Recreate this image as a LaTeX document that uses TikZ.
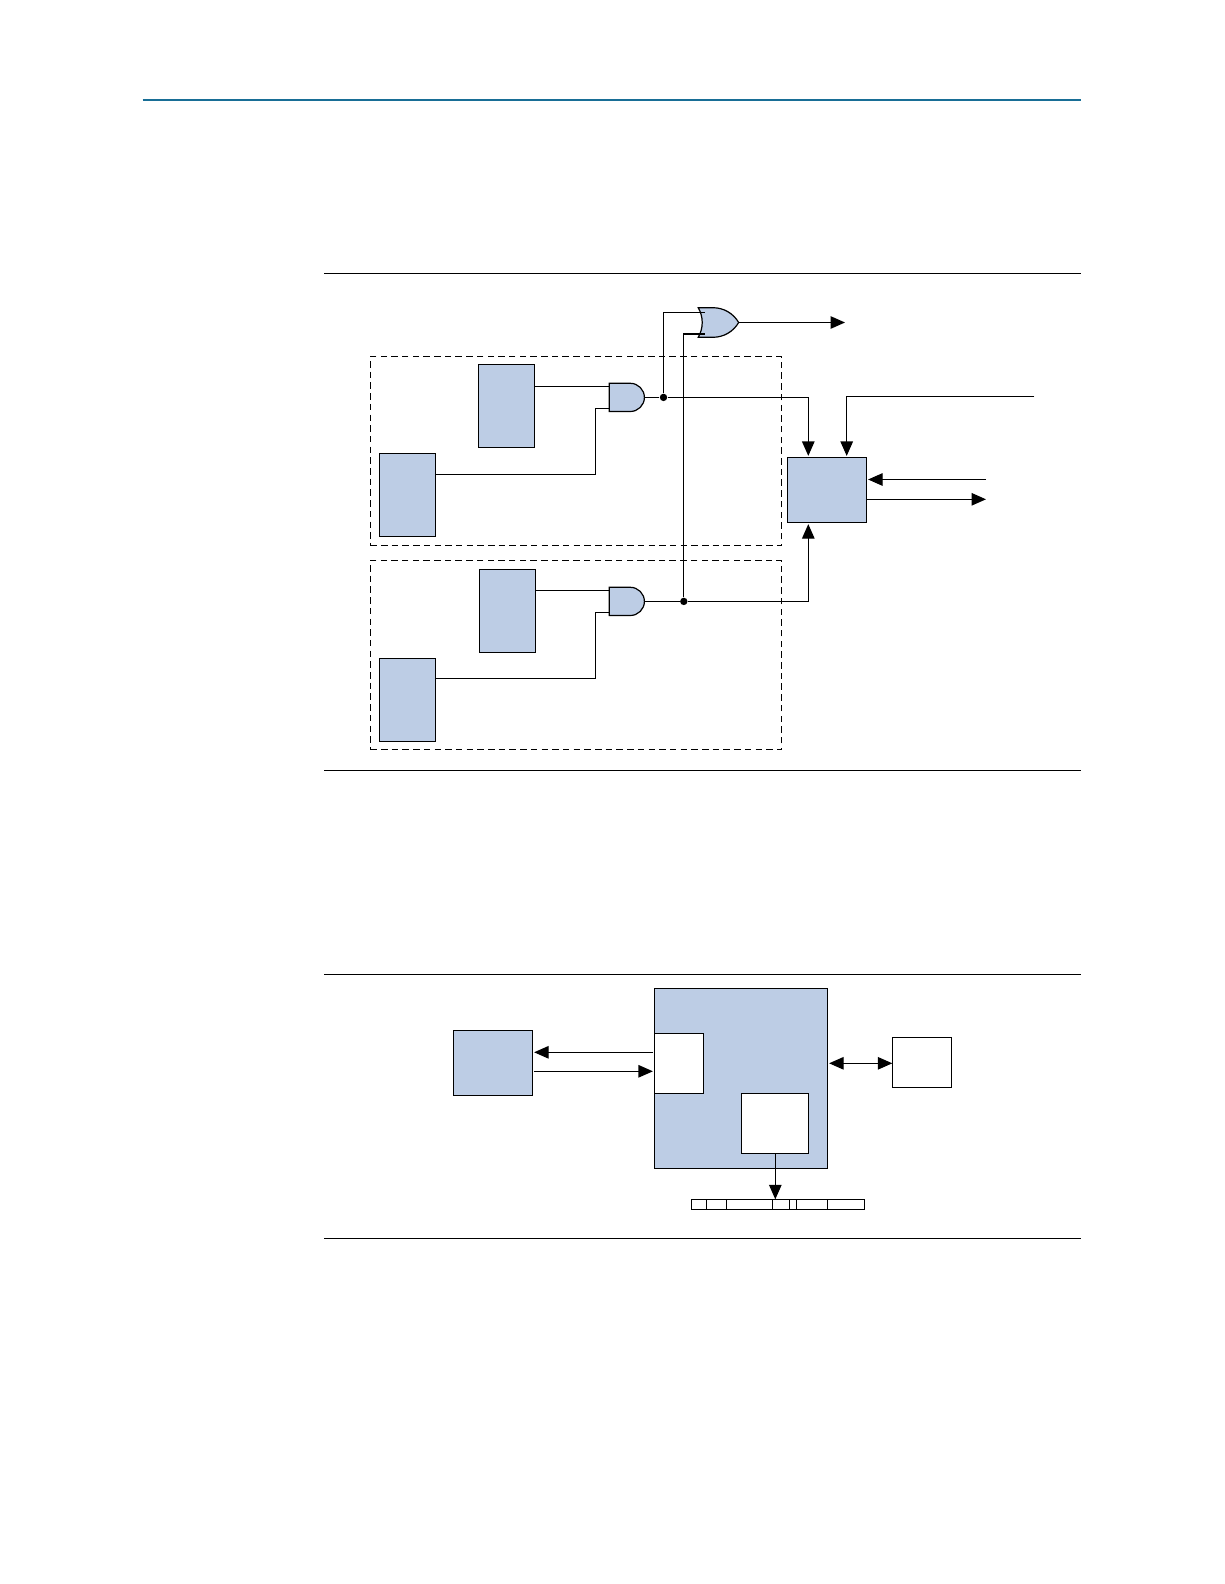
\documentclass[tikz,border=0pt]{standalone}
\usetikzlibrary{arrows.meta, shapes.gates.logic.US}
\definecolor{blockfill}{RGB}{189, 205, 229}
\definecolor{headline}{RGB}{24, 110, 150}

\begin{document}
\begin{tikzpicture}[
	x=1pt, y=-1pt,
	line width=1.2pt,
	>={Triangle[length=14.5pt, width=12.5pt]},
	% Styles for the blocks
	blueblock/.style={draw, fill=blockfill, inner sep=0pt, outer sep=0pt},
	whiteblock/.style={draw, fill=white, inner sep=0pt, outer sep=0pt},
	groupbox/.style={draw, dash pattern=on 6.5pt off 4.2pt, inner sep=0pt, outer sep=0pt},
	% Styles for the logic gates
	andshape/.style={and gate US, draw, fill=blockfill, logic gate inputs=nn, logic gate input sep=9.4pt, minimum width=32.7pt, inner sep=0pt, outer sep=0pt},
	orshape/.style={or gate US, draw, fill=blockfill, logic gate inputs=nn, logic gate input sep=9.8pt, minimum width=40.4pt, inner sep=0pt, outer sep=0pt},
	junction/.style={circle, fill=black, minimum size=7.4pt, inner sep=0pt},
	ruleline/.style={line width=1.1pt},
	gapped/.style={shorten >=1.4pt}
	]
	\useasboundingbox (0,0) rectangle (1224,1584);
	
	% ==========================================
	% PAGE RULES
	% ==========================================
	\draw[headline, line width=2pt] (142.7,100) -- (1081,100);
	\draw[ruleline] (324,273.3) -- (1081,273.3);
	\draw[ruleline] (324,770.3) -- (1081,770.3);
	\draw[ruleline] (324,974.3) -- (1081,974.3);
	\draw[ruleline] (324,1238.3) -- (1081,1238.3);
	
	% ==========================================
	% UPPER FIGURE
	% ==========================================
	% Dashed groups
	\node[groupbox, minimum width=411.4pt, minimum height=189pt] (groupone) at (576,450.8) {};
	\node[groupbox, minimum width=411.4pt, minimum height=189pt] (grouptwo) at (576,654.8) {};
	
	% Blocks of the first group
	\node[blueblock, minimum width=56.4pt, minimum height=83pt] (topblockone) at (506.5,405.8) {};
	\node[blueblock, minimum width=56.4pt, minimum height=83pt] (lowblockone) at (407.5,494.8) {};
	
	% Blocks of the second group
	\node[blueblock, minimum width=56.4pt, minimum height=83pt] (topblocktwo) at (507.5,610.8) {};
	\node[blueblock, minimum width=56.4pt, minimum height=83pt] (lowblocktwo) at (407.5,699.8) {};
	
	% Gates
	\node[andshape] (andone) at (625.6,397.4) {};
	\node[andshape] (andtwo) at (625.6,601.4) {};
	\node[orshape] (orgate) at (715.5,322.5) {};
	
	% Controller on the right
	\node[blueblock, minimum width=79.4pt, minimum height=65.4pt] (control) at (827,490) {};
	
	% Junctions
	\node[junction] (dotone) at (663.5,397.4) {};
	\node[junction] (dottwo) at (683.8,601.4) {};
	
	% Free ends and elbows
	\coordinate (elbowone) at (595.3,474.3);
	\coordinate (elbowtwo) at (595.3,678.3);
	\coordinate (orout) at (845,322.5);
	\coordinate (clockin) at (1034.3,396.5);
	\coordinate (dataend) at (986,479.5);
	\coordinate (dataout) at (986,499.3);
	
	% Wires into the AND gates
	\draw (topblockone.east |- 0,386.3) -- (andone.west |- 0,386.3);
	\draw (elbowone -| lowblockone.east) -- (elbowone) |- (andone.west |- 0,408.3);
	\draw (topblocktwo.east |- 0,590.3) -- (andtwo.west |- 0,590.3);
	\draw (elbowtwo -| lowblocktwo.east) -- (elbowtwo) |- (andtwo.west |- 0,612.3);
	
	% Wires out of the AND gates
	\draw (andone.east) -- (dotone);
	\draw (andtwo.east) -- (dottwo);
	\draw[->, gapped] (dotone) -| ([xshift=-18.7pt]control.north);
	\draw[->, gapped] (dottwo) -| ([xshift=-18.7pt]control.south);
	
	% OR gate
	\draw (dotone) |- ([xshift=3pt]orgate.west |- 0,312.3);
	\draw (dottwo) |- ([xshift=3pt]orgate.west |- 0,334);
	\draw[->] (orgate.east) -- (orout);
	
	% Controller signals
	\draw[->, gapped] (clockin) -| ([xshift=19.7pt]control.north);
	\draw[->, gapped] (dataend) -- (dataend -| control.east);
	\draw[->] (dataout -| control.east) -- (dataout);
	
	% ==========================================
	% LOWER FIGURE
	% ==========================================
	\node[blueblock, minimum width=79.4pt, minimum height=65pt] (leftblock) at (493,1062.8) {};
	\node[blueblock, minimum width=173.4pt, minimum height=180pt] (mainblock) at (741,1078.3) {};
	\node[whiteblock, minimum width=49.4pt, minimum height=60pt] (portblock) at (679,1063.3) {};
	\node[whiteblock, minimum width=67pt, minimum height=60pt] (regblock) at (774.8,1123.3) {};
	\node[whiteblock, minimum width=59.4pt, minimum height=50.4pt] (rightblock) at (922,1062.5) {};
	\node[whiteblock, minimum width=173pt, minimum height=10pt] (regbar) at (777.8,1204.3) {};
	
	% Cell borders of the register
	\foreach \cellx in {706.3, 726.7, 772.3, 789.3, 796.3, 827.3} {
		\draw (regbar.north -| \cellx,0) -- (regbar.south -| \cellx,0);
	}
	
	% Arrows between the blocks
	\draw[->, gapped, shorten <=1.2pt] (portblock.west |- 0,1052.3) -- (leftblock.east |- 0,1052.3);
	\draw[->, gapped, shorten <=1.2pt] (leftblock.east |- 0,1071.3) -- (portblock.west |- 0,1071.3);
	\draw[<->, shorten <=1.4pt] (mainblock.east |- 0,1063.3) -- (rightblock.west |- 0,1063.3);
	\draw[->] ([xshift=0.5pt]regblock.south) -- ([xshift=0.5pt]regblock.south |- regbar.north);
	
\end{tikzpicture}
\end{document}
